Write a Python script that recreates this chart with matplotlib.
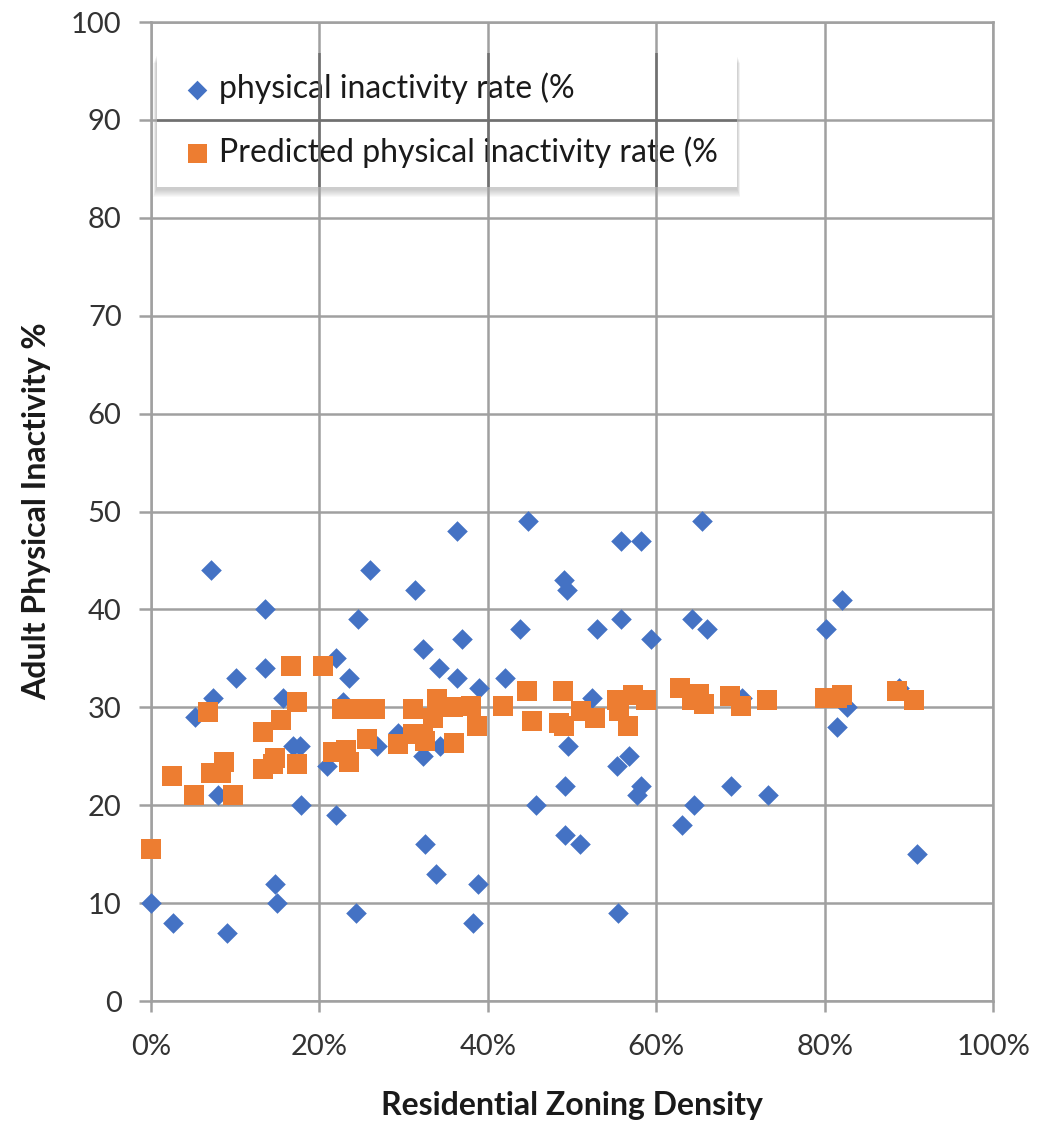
import numpy as np
import matplotlib.pyplot as plt
from matplotlib.patches import Rectangle
from matplotlib.ticker import PercentFormatter

plt.rcParams['font.family'] = ['Lato', 'DejaVu Sans']

# observed physical inactivity (%), x = residential zoning density (fraction)
obs_density = [0.000, 0.026, 0.053, 0.071, 0.074, 0.080, 0.090, 0.101, 0.136, 0.136,
               0.147, 0.150, 0.157, 0.169, 0.177, 0.178, 0.209, 0.220, 0.220, 0.228,
               0.235, 0.246, 0.243, 0.260, 0.268, 0.294, 0.314, 0.323, 0.323, 0.325,
               0.339, 0.342, 0.343, 0.364, 0.364, 0.369, 0.382, 0.388, 0.390, 0.421,
               0.438, 0.448, 0.457, 0.491, 0.494, 0.492, 0.492, 0.495, 0.509, 0.524,
               0.530, 0.553, 0.555, 0.558, 0.558, 0.568, 0.577, 0.582, 0.582, 0.594,
               0.630, 0.643, 0.645, 0.654, 0.660, 0.689, 0.702, 0.733, 0.802, 0.815,
               0.821, 0.827, 0.888, 0.909]
obs_rate = [10, 8, 29, 44, 31, 21, 7, 33, 40, 34,
            12, 10, 31, 26, 26, 20, 24, 35, 19, 30.5,
            33, 39, 9, 44, 26, 27.4, 42, 36, 25, 16,
            13, 34, 26, 48, 33, 37, 8, 12, 32, 33,
            38, 49, 20, 43, 42, 22, 17, 26, 16, 31,
            38, 24, 9, 47, 39, 25, 21, 47, 22, 37,
            18, 39, 20, 49, 38, 22, 31, 21, 38, 28,
            41, 30, 32, 15]

# model prediction
pred_density = [0.000, 0.025, 0.051, 0.068, 0.071, 0.083, 0.087, 0.097, 0.133, 0.133,
                0.145, 0.147, 0.155, 0.167, 0.174, 0.174, 0.205, 0.216, 0.227, 0.232,
                0.235, 0.248, 0.257, 0.266, 0.293, 0.311, 0.311, 0.323, 0.325, 0.335,
                0.340, 0.359, 0.360, 0.380, 0.387, 0.418, 0.446, 0.453, 0.485, 0.489,
                0.491, 0.511, 0.527, 0.553, 0.556, 0.566, 0.572, 0.588, 0.628, 0.643,
                0.651, 0.657, 0.687, 0.701, 0.731, 0.800, 0.814, 0.821, 0.886, 0.906]
pred_rate = [15.5, 23, 21, 29.5, 23.3, 23.3, 24.4, 21, 27.5, 23.7,
             24.2, 24.8, 28.7, 34.2, 30.5, 24.2, 34.2, 25.4, 29.8, 25.6,
             24.4, 29.8, 26.8, 29.8, 26.3, 29.8, 27.3, 27.3, 26.6, 28.9,
             30.9, 30.0, 26.4, 30.1, 28.1, 30.1, 31.7, 28.6, 28.4, 31.7,
             28.1, 29.6, 28.9, 30.7, 29.6, 28.1, 31.3, 30.7, 32.0, 30.7,
             31.4, 30.3, 31.2, 30.1, 30.8, 31.0, 31.0, 31.3, 31.7, 30.8]

xticks = np.arange(0, 1.01, 0.2)
yticks = np.arange(0, 101, 10)

blue = '#4472C4'
orange = '#ED7D31'
grid_col = '#A0A0A0'

fig = plt.figure(figsize=(10.4, 11.24), dpi=100)
ax = fig.add_axes([0.145, 0.1094, 0.81, 0.871])

ax.scatter(obs_density, obs_rate, marker='D', s=10.5**2, color=blue,
           linewidths=0, zorder=3, clip_on=False, label='physical inactivity rate (%')
ax.scatter(pred_density, pred_rate, marker='s', s=14.4**2, color=orange,
           linewidths=0, zorder=4, clip_on=False, label='Predicted physical inactivity rate (%')

ax.set_xlim(0, 1)
ax.set_ylim(0, 100)
ax.set_xticks(xticks)
ax.set_yticks(yticks)
ax.xaxis.set_major_formatter(PercentFormatter(1.0, decimals=0))

for xv in xticks:
    ax.axvline(xv, color=grid_col, linewidth=1.8, zorder=2)
for yv in yticks:
    ax.axhline(yv, color=grid_col, linewidth=1.8, zorder=2)
for sp in ax.spines.values():
    sp.set_color(grid_col)
    sp.set_linewidth(1.8)
ax.tick_params(axis='both', colors=grid_col, labelcolor='#333333',
               labelsize=21, width=1.8)
ax.tick_params(axis='x', length=8, pad=16)
ax.tick_params(axis='y', length=9, pad=12)

ax.set_xlabel('Residential Zoning Density', fontsize=23, fontweight='bold',
              color='#1a1a1a', labelpad=22)
ax.set_ylabel('Adult Physical Inactivity %', fontsize=23, fontweight='bold',
              color='#1a1a1a', labelpad=14)

# legend text only; its box is drawn separately
leg = ax.legend(loc='upper left', bbox_to_anchor=(0.007, 0.968), borderaxespad=0,
                fontsize=23, frameon=False,
                handletextpad=0.05, borderpad=0.6, labelspacing=1.0,
                markerscale=0.95, handlelength=1.3)
for t in leg.get_texts():
    t.set_color('#1a1a1a')

fig.canvas.draw()
bb = leg.get_window_extent().transformed(ax.transAxes.inverted())
ax_h_px = ax.get_window_extent().height
ax_w_px = ax.get_window_extent().width

# soft shadow: stacked translucent boxes shifted down
for k in range(1, 9):
    dy = (2 + k) / ax_h_px
    dx = (k * 0.4) / ax_w_px
    ax.add_patch(Rectangle((bb.x0 - dx, bb.y0 - dy), bb.width + 2 * dx, bb.height,
                           transform=ax.transAxes, facecolor='#606060',
                           edgecolor='none', alpha=0.045, zorder=0.2))
box = Rectangle((bb.x0, bb.y0), bb.width, bb.height, transform=ax.transAxes,
                facecolor='white', edgecolor='none', zorder=0.3)
ax.add_patch(box)

# darker gridlines running across the legend box
for xv in xticks:
    ln = ax.axvline(xv, color='#707070', linewidth=1.8, zorder=10)
    ln.set_clip_path(box)
for yv in yticks:
    ln = ax.axhline(yv, color='#707070', linewidth=1.8, zorder=10)
    ln.set_clip_path(box)

fig.savefig('out.png', dpi=100)
